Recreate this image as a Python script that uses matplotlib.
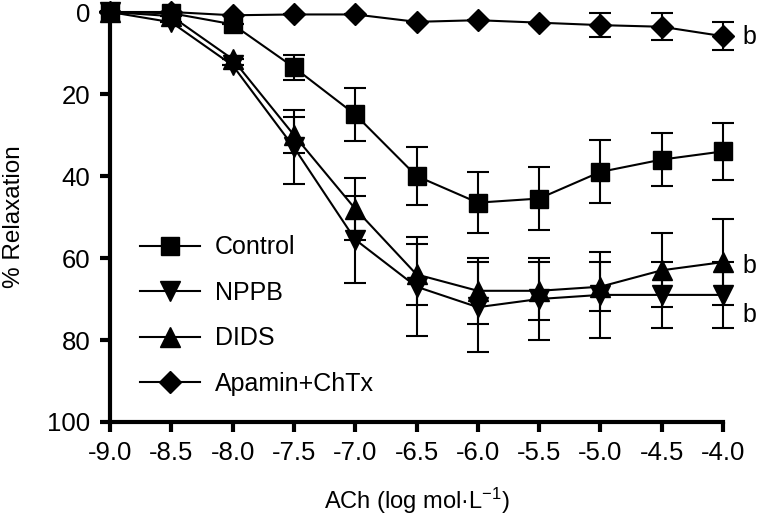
import matplotlib
matplotlib.use('Agg')
import matplotlib.pyplot as plt

plt.rcParams['font.family'] = ['Liberation Sans', 'DejaVu Sans']
plt.rcParams['mathtext.default'] = 'regular'

# ACh concentration (log mol/L)
conc = [-9.0, -8.5, -8.0, -7.5, -7.0, -6.5, -6.0, -5.5, -5.0, -4.5, -4.0]

# % relaxation, mean and error
control = [0, 0.3, 3, 13.5, 25, 40, 46.5, 45.5, 39, 36, 34]
control_err = [0, 0, 0, 3, 6.5, 7, 7.5, 7.7, 7.7, 6.5, 7]
nppb = [0, 2.5, 13, 33, 55.5, 67, 72, 70, 69, 69, 69]
nppb_err = [0, 0, 0, 9, 10.5, 12, 11, 10, 10.5, 8, 8]
dids = [0, 1, 11.5, 30, 48, 64, 68, 68, 67, 63, 61]
dids_err = [0, 0, 0, 4.5, 7.6, 7.5, 8, 7, 6, 9, 10.5]
apamin = [0, 0, 0.8, 0.6, 0.6, 2.4, 2.0, 2.6, 3.2, 3.6, 5.9]
apamin_err = [0, 0, 0, 0, 0, 0, 0, 0, 3, 3.3, 3.4]

series = [
    ("Control", control, control_err, 's', 13),
    ("NPPB", nppb, nppb_err, 'v', 15),
    ("DIDS", dids, dids_err, '^', 15),
    ("Apamin+ChTx", apamin, apamin_err, 'D', 11),
]

# significance marks: (x, y) in data units
b_marks = [(-4.0, 6), (-4.0, 62), (-4.0, 74)]

fig = plt.figure(figsize=(7.57, 5.16), dpi=100)
ax = fig.add_axes([110 / 757, 1 - 422 / 516, 613 / 757, 410 / 516])

for name, vals, errs, mk, ms in series:
    ax.errorbar(conc, vals, yerr=errs, fmt='none', ecolor='black',
                elinewidth=1.5, capsize=8, capthick=1.5, clip_on=False)
    ax.plot(conc, vals, color='black', lw=1.5, marker=mk, markersize=ms,
            markerfacecolor='black', markeredgecolor='black',
            label=name, clip_on=False)

for bx, by in b_marks:
    ax.annotate('b', (bx, by), xytext=(14, 0), textcoords='offset points',
                va='center', ha='left', fontsize=18, annotation_clip=False)

ax.set_xlim(-9.0, -4.0)
ax.set_ylim(100, 0)
ax.set_xticks(conc)
ax.set_xticklabels(["%.1f" % c for c in conc])
ax.set_yticks([0, 20, 40, 60, 80, 100])

for s in ['top', 'right']:
    ax.spines[s].set_visible(False)
for s in ['left', 'bottom']:
    ax.spines[s].set_linewidth(3)
ax.tick_params(width=3, length=7, labelsize=18.5, pad=7)

ax.set_xlabel("ACh (log mol·L$^{-1}$)", fontsize=17, labelpad=15)
ax.set_ylabel("% Relaxation", fontsize=17.5, labelpad=16)

ax.legend(loc='upper left', bbox_to_anchor=(0.049, 0.455), frameon=False,
          fontsize=18, handlelength=2.4, handletextpad=0.6,
          labelspacing=0.86, borderpad=0, borderaxespad=0)

plt.savefig('out.png', dpi=100)
